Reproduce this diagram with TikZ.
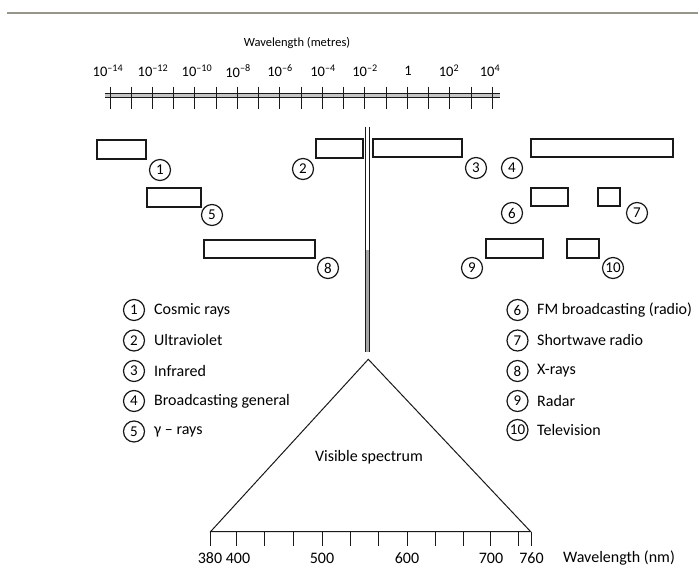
\documentclass[tikz,border=0pt]{standalone}
\usepackage{fontspec}
\setmainfont{Carlito}
\definecolor{rulegray}{RGB}{150,150,140}
\definecolor{ink}{RGB}{25,25,25}
\begin{document}
\begin{tikzpicture}[x=1pt,y=-1pt,
  box/.style={draw=ink, line width=1.1pt},
  num/.style={circle, draw=ink, line width=1.2pt, minimum size=21pt, inner sep=0pt, font=\fontsize{15}{15}\selectfont},
  legtext/.style={anchor=west, inner sep=0pt, font=\fontsize{16}{16}\selectfont},
  ticklab/.style={inner sep=0pt, font=\fontsize{14.5}{14.5}\selectfont},
  botlab/.style={inner sep=0pt, font=\fontsize{16}{16}\selectfont},
  tick/.style={draw=ink, line width=1pt}]
\useasboundingbox (0,0) rectangle (698,569);
% top rule
\draw[rulegray, line width=2.5pt] (7,13) -- (698,13);
% title
\node[inner sep=0pt, font=\fontsize{12.5}{12.5}\selectfont] (title) at (297,43) {Wavelength (metres)};
% top axis
\fill[gray!45] (105,93.5) rectangle (500,97.5);
\draw[ink, line width=0.9pt] (105,93.5) -- (500,93.5);
\draw[ink, line width=0.9pt] (105,97.5) -- (500,97.5);
\foreach \k in {0,...,18} {
  \draw[tick] ({110+\k*21.24},87) -- ({110+\k*21.24},109);
}
\node[ticklab] (a1) at (108,71) {10\textsuperscript{–14}};
\node[ticklab] (a2) at (153,71) {10\textsuperscript{–12}};
\node[ticklab] (a3) at (197,71) {10\textsuperscript{–10}};
\node[ticklab] (a4) at (238,71) {10\textsuperscript{–8}};
\node[ticklab] (a5) at (280,71) {10\textsuperscript{–6}};
\node[ticklab] (a6) at (323,71) {10\textsuperscript{–4}};
\node[ticklab] (a7) at (365,71) {10\textsuperscript{–2}};
\node[ticklab] (a8) at (408,71) {1};
\node[ticklab] (a9) at (449,71) {10\textsuperscript{2}};
\node[ticklab] (a10) at (490,71) {10\textsuperscript{4}};
% vertical double line
\fill[gray!70] (365.5,250) rectangle (369.5,352);
\draw[ink, line width=1pt] (365.5,127) -- (365.5,352);
\draw[ink, line width=1pt] (369.5,127) -- (369.5,352);
% band boxes
\draw[box] (97,140) rectangle (146,159);
\draw[box] (147,188) rectangle (201,207);
\draw[box] (204,240) rectangle (315,258);
\draw[box] (316,139) rectangle (363,158);
\draw[box] (373,139) rectangle (462,157);
\draw[box] (531,139) rectangle (673,157);
\draw[box] (531,188) rectangle (568,206);
\draw[box] (598,188) rectangle (620,206);
\draw[box] (486,239) rectangle (543,258);
\draw[box] (567,239) rectangle (599,258);
% band numbers
\node[num] (c1) at (160,170) {1};
\node[num] (c5) at (212,215) {5};
\node[num] (c8) at (328,268) {8};
\node[num] (c2) at (303,169) {2};
\node[num] (c3) at (476,168) {3};
\node[num] (c4) at (512,168) {4};
\node[num] (c6) at (512,213) {6};
\node[num] (c7) at (637,213) {7};
\node[num] (c9) at (472,268) {9};
\node[num] (c10) at (613,268) {10};
% legend left
\node[num] (l1) at (134,310) {1};
\node[num] (l2) at (134,340.5) {2};
\node[num] (l3) at (134,371) {3};
\node[num] (l4) at (134,401) {4};
\node[num] (l5) at (134,431.5) {5};
\node[legtext] (t1) at (154,310) {Cosmic rays};
\node[legtext] (t2) at (154,340.5) {Ultraviolet};
\node[legtext] (t3) at (154,371) {Infrared};
\node[legtext] (t4) at (154,401) {Broadcasting general};
\node[legtext] (t5) at (154,431.5) {γ – rays};
% legend right
\node[num] (l6) at (517.5,310) {6};
\node[num] (l7) at (517.5,340.5) {7};
\node[num] (l8) at (517.5,371) {8};
\node[num] (l9) at (517.5,401) {9};
\node[num] (l10) at (517.5,430) {10};
\node[legtext] (t6) at (537,310) {FM broadcasting (radio)};
\node[legtext] (t7) at (537,340.5) {Shortwave radio};
\node[legtext] (t8) at (537,371) {X-rays};
\node[legtext] (t9) at (537,401) {Radar};
\node[legtext] (t10) at (537,430) {Television};
% visible spectrum triangle
\draw[ink, line width=1pt, line join=miter] (368.3,359.3) -- (210.5,531.7) -- (530.7,531.7) -- cycle;
\node[botlab] (vis) at (369,457) {Visible spectrum};
\draw[ink, line width=1.3pt] (210,531.7) -- (531,531.7);
\foreach \x in {210,236,264,293,322,350,378,407,435,463,490,518,531} {
  \draw[tick] (\x,531.7) -- (\x,546);
}
\node[botlab] (n380) at (210,558) {380};
\node[botlab] (n400) at (238,558) {400};
\node[botlab] (n500) at (322,558) {500};
\node[botlab] (n600) at (407,558) {600};
\node[botlab] (n700) at (491,558) {700};
\node[botlab] (n760) at (531.5,558) {760};
\node[botlab] (wnm) at (619,558) {Wavelength (nm)};
\end{tikzpicture}
\end{document}
